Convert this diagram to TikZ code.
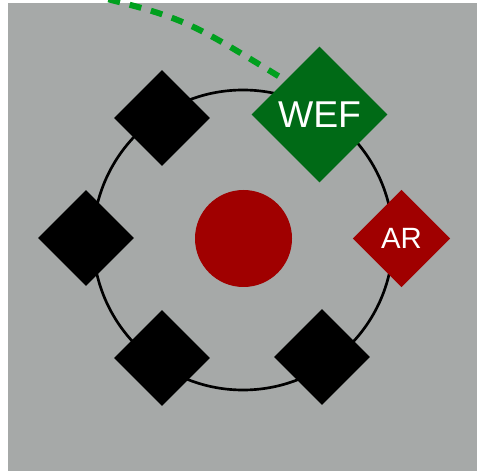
\documentclass[tikz,border=0pt]{standalone}
\usepackage{fontspec}
\setmainfont{Liberation Sans}
\usetikzlibrary{shapes.geometric}

\definecolor{bggray}{RGB}{166,169,168}
\definecolor{wefgreen}{RGB}{0,106,22}
\definecolor{linkgreen}{RGB}{0,160,30}
\definecolor{arred}{RGB}{160,0,0}

\begin{document}
\begin{tikzpicture}[x=0.75pt,y=0.75pt,yscale=-1,xscale=1,
    blkbox/.style={diamond, fill=black, inner sep=0pt, minimum size=72pt},
    lbl/.style={text=white, font=\fontsize{#1}{#1}\selectfont}]
    \useasboundingbox (0,0) rectangle (477,473);
    
    %Shape: Rectangle [id:background] 
    \fill[bggray] (8,3) rectangle (477,470.5);
    %Shape: Circle [id:ring] 
    \draw[line width=2pt] (243,240) circle (150);
    
    %Shape: Circle [id:core] 
    \node (core) [circle, fill=arred, inner sep=0pt, minimum size=72.75pt] at (243.5,238.5) {};
    %Shape: Diamond [id:nwbox] 
    \node (nwbox) [blkbox] at (162,118) {};
    %Shape: Diamond [id:wbox] 
    \node (wbox) [blkbox] at (86,238) {};
    %Shape: Diamond [id:swbox] 
    \node (swbox) [blkbox] at (162,358) {};
    %Shape: Diamond [id:sebox] 
    \node (sebox) [blkbox] at (322,357) {};
    %Shape: Diamond [id:wef] 
    \node (wef) [diamond, fill=wefgreen, inner sep=0pt, minimum size=102pt, lbl=28] at (319.5,114.5) {WEF};
    %Shape: Diamond [id:ar] 
    \node (ar) [diamond, fill=arred, inner sep=0pt, minimum size=73pt, lbl=22] at (401.5,238.5) {AR};
    
    %Curve Lines [id:link] 
    \coordinate (linkend) at (70,-10);
    \begin{scope}
    \clip (0,0) rectangle (477,473);
    \draw[linkgreen, line width=4.5pt, dash pattern=on 9pt off 7.5pt, shorten <=6pt] (wef.north west) .. controls (182,17) .. (linkend);
    \end{scope}
    
\end{tikzpicture}
\end{document}
